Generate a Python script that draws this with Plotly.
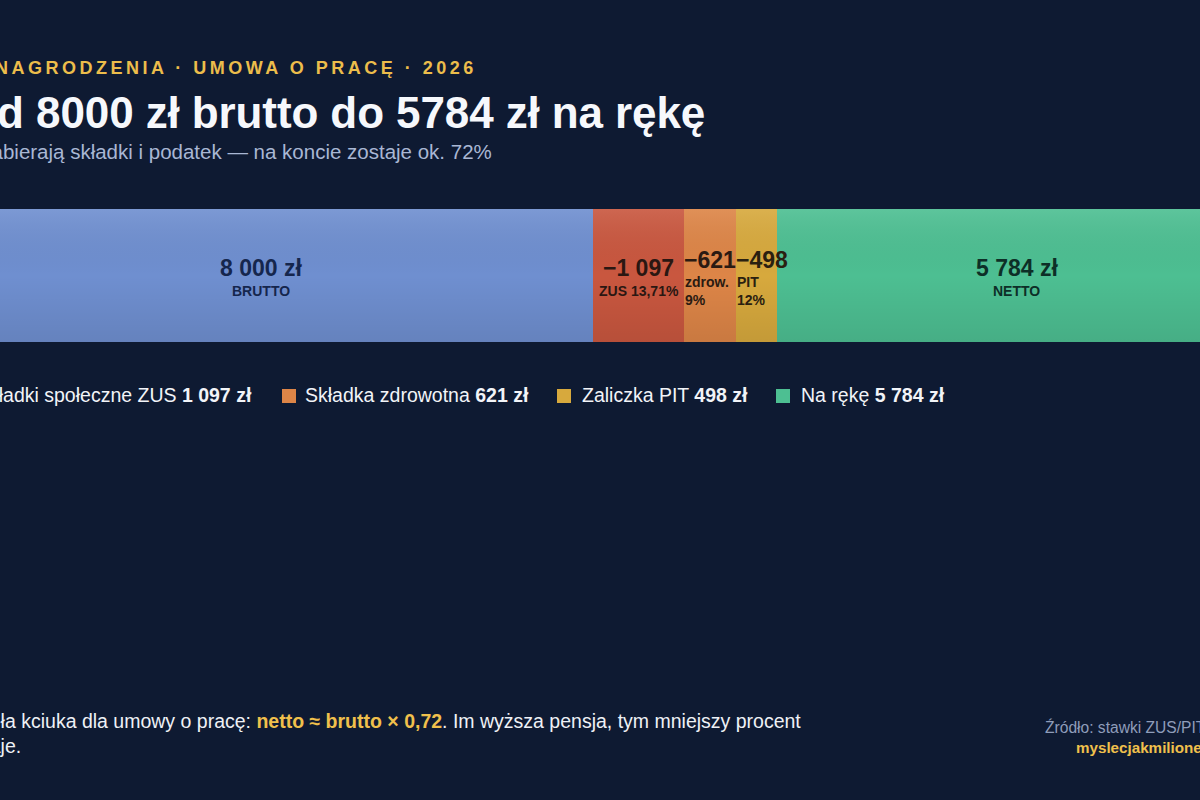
import plotly.graph_objects as go

W, H = 1200, 800

# ---------------- data ----------------
segment_names = ["Brutto", "Składki społeczne ZUS", "Składka zdrowotna", "Zaliczka PIT", "Na rękę"]
brutto = 8000
deductions = [1097, 621, 498]
netto = 5784
values = [brutto] + deductions + [netto]
value_labels_sign = ["", "−", "−", "−", ""]
value_suffix = [" zł", "", "", "", " zł"]
bar_sublabels = ["BRUTTO", "ZUS 13,71%", "zdrow.<br>9%", "PIT<br>12%", "NETTO"]
legend_names = ["Składki społeczne ZUS", "Składka zdrowotna", "Zaliczka PIT", "Na rękę"]
legend_values = deductions + [netto]

# ---------------- style ----------------
BG = "#0e1a32"
seg_colors = ["#6f8fd0", "#c9573f", "#dd8547", "#d7a93d", "#4dbf92"]
seg_text_colors = ["#15264d", "#2a1712", "#2a1a12", "#2a2010", "#0d2f27"]
GOLD = "#ecbd4b"
FONT = "Liberation Sans, Arial, Helvetica, sans-serif"


def fmt(v):
    return f"{v:,}".replace(",", " ")


def px(x):
    return x / W


def py(y):
    return 1 - y / H


# cumulative bases computed from data
bases = [0]
for v in values[:-1]:
    bases.append(bases[-1] + v)
total = bases[-1] + values[-1]

fig = go.Figure()
for i, (name, b, v) in enumerate(zip(segment_names, bases, values)):
    fig.add_trace(go.Bar(
        y=[0], x=[v], base=[b], orientation="h", name=name,
        marker=dict(color=seg_colors[i], line=dict(width=0)),
        width=1, hoverinfo="skip", showlegend=False,
    ))

# soft vertical shading over the whole bar (lighter top, darker bottom)
fig.add_trace(go.Scatter(
    x=[0, total, total, 0, 0], y=[-0.5, -0.5, 0.5, 0.5, -0.5],
    mode="lines", line=dict(width=0), fill="toself",
    fillgradient=dict(type="vertical",
                      colorscale=[[0, "rgba(0,0,0,0.09)"], [0.5, "rgba(0,0,0,0)"],
                                  [1, "rgba(255,255,255,0.09)"]]),
    hoverinfo="skip", showlegend=False,
))

annotations = []
shapes = []

# ----- texts inside the bar -----
for i, (b, v) in enumerate(zip(bases, values)):
    val_txt = f"<b>{value_labels_sign[i]}{fmt(v)}{value_suffix[i]}</b>"
    sub_txt = f"<b>{bar_sublabels[i]}</b>"
    if i in (2, 3):  # narrow segments: left aligned
        annotations.append(dict(x=b, xref="x", y=py(260), yref="paper", text=val_txt,
                                xanchor="left", yanchor="middle", showarrow=False, xshift=-2,
                                font=dict(size=23, color=seg_text_colors[i], family=FONT)))
        annotations.append(dict(x=b, xref="x", y=py(291), yref="paper", text=sub_txt,
                                xanchor="left", yanchor="middle", align="left", showarrow=False,
                                xshift=-1,
                                font=dict(size=14, color=seg_text_colors[i], family=FONT)))
    else:
        cx = b + v / 2
        annotations.append(dict(x=cx, xref="x", y=py(268), yref="paper", text=val_txt,
                                xanchor="center", yanchor="middle", showarrow=False,
                                font=dict(size=23, color=seg_text_colors[i], family=FONT)))
        annotations.append(dict(x=cx, xref="x", y=py(291), yref="paper", text=sub_txt,
                                xanchor="center", yanchor="middle", showarrow=False,
                                font=dict(size=14, color=seg_text_colors[i], family=FONT)))

# ----- header -----
annotations.append(dict(
    x=px(479), y=py(68), xref="paper", yref="paper", xanchor="right", yanchor="middle",
    text="<b><span style='letter-spacing:3.5px'>WYNAGRODZENIA · UMOWA O PRACĘ · 2026</span></b>",
    showarrow=False, font=dict(size=18, color=GOLD, family=FONT)))
annotations.append(dict(
    x=px(707), y=py(112), xref="paper", yref="paper", xanchor="right", yanchor="middle",
    text="<b><span style='letter-spacing:-0.1px'>Od 8000 zł brutto do 5784 zł na rękę</span></b>",
    showarrow=False, font=dict(size=44, color="#f6f8fc", family=FONT)))
annotations.append(dict(
    x=px(494), y=py(152), xref="paper", yref="paper", xanchor="right", yanchor="middle",
    text="Zabierają składki i podatek — na koncie zostaje ok. 72%",
    showarrow=False, font=dict(size=20.5, color="#a9b7d4", family=FONT)))

# ----- legend row -----
leg_marker_x = [-48, 282, 557, 776]
leg_text_x = [254, 303, 580, 799]
leg_colors = seg_colors[1:]
for i, (nm, val) in enumerate(zip(legend_names, legend_values)):
    x0 = leg_marker_x[i]
    y0 = 389
    shapes.append(dict(type="rect", xref="paper", yref="paper",
                       x0=px(x0), x1=px(x0 + 14), y0=py(y0 + 14), y1=py(y0),
                       fillcolor=leg_colors[i], line=dict(width=0), layer="above"))
    annotations.append(dict(
        x=px(leg_text_x[i]), y=py(395), xref="paper", yref="paper",
        xanchor="right" if i == 0 else "left", yanchor="middle",
        text=f"{nm} <b>{fmt(val)} zł</b>", showarrow=False,
        font=dict(size=19.5, color="#f2f4f8", family=FONT)))

# ----- footer -----
annotations.append(dict(
    x=px(803), y=py(733), xref="paper", yref="paper", xanchor="right", yanchor="middle",
    align="left",
    text=("Reguła kciuka dla umowy o pracę: <b><span style='color:#f0c04c'>netto ≈ brutto × 0,72</span></b>."
          " Im wyższa pensja, tym mniejszy procent<br>zostaje."),
    showarrow=False, font=dict(size=19.5, color="#eef1f6", family=FONT)))
annotations.append(dict(
    x=px(1043), y=py(727), xref="paper", yref="paper", xanchor="left", yanchor="middle",
    text="Źródło: stawki ZUS/PIT 2026",
    showarrow=False, font=dict(size=15.6, color="#8f9dba", family=FONT)))
annotations.append(dict(
    x=px(1074), y=py(747), xref="paper", yref="paper", xanchor="left", yanchor="middle",
    text="<b>myslecjakmilioner.pl</b>",
    showarrow=False, font=dict(size=15.2, color="#f0c04c", family=FONT)))

fig.update_layout(
    width=W, height=H, margin=dict(l=0, r=0, t=0, b=0),
    paper_bgcolor=BG, plot_bgcolor=BG,
    barmode="overlay", bargap=0,
    xaxis=dict(range=[855, 15313], visible=False, fixedrange=True, domain=[0, 1]),
    yaxis=dict(range=[-0.5, 0.5], visible=False, fixedrange=True,
               domain=[py(342), py(209)]),
    annotations=annotations, shapes=shapes, showlegend=False,
)

fig.write_html(
    "out.html",
    config={"displayModeBar": False},
    post_script=("document.body.style.margin='0';"
                 "document.body.style.background='" + BG + "';"),
)
